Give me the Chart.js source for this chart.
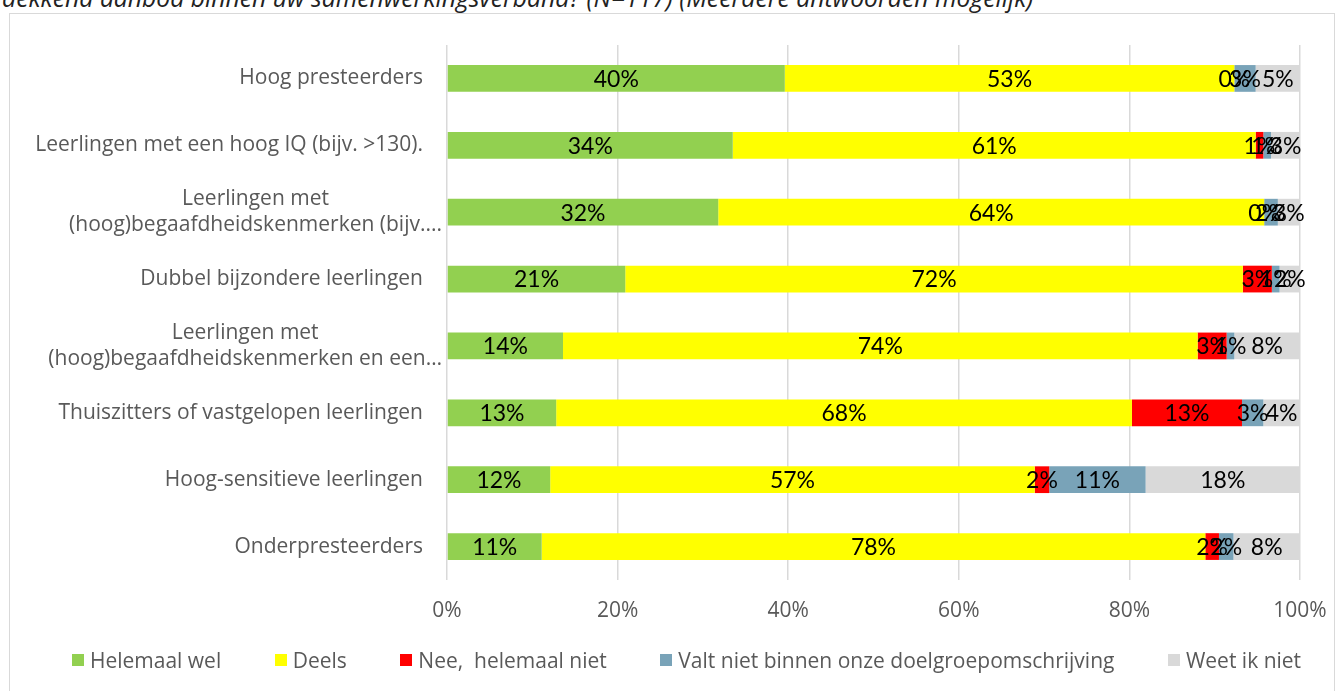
<!DOCTYPE html>
<html>
<head>
<meta charset="utf-8">
<script src="https://cdn.jsdelivr.net/npm/chart.js@4/dist/chart.umd.min.js"></script>
<style>
  html, body { margin: 0; padding: 0; background: #ffffff; overflow: hidden; }
  #wrap { position: relative; width: 1337px; height: 691px; }
  #title { position: absolute; left: 2px; top: -19px; font-family: "Open Sans", sans-serif; font-style: italic; font-size: 24.7px; color: #222; white-space: nowrap; }
  #frame { position: absolute; left: 9px; top: 13px; width: 1326px; height: 720px; border: 1px solid #d9d9d9; box-sizing: border-box; }
  #c { position: absolute; left: 0; top: 0; }
  #legend { position: absolute; left: 36px; right: 0; top: 648px; height: 24px; display: flex; justify-content: center; align-items: center; font-family: "Open Sans", sans-serif; font-size: 21px; color: #595959; line-height: 24px; }
  #legend .item { display: flex; align-items: center; margin: 0 26.75px; white-space: pre; }
  #legend .box { width: 12px; height: 12px; margin-right: 6px; }
</style>
</head>
<body>
<div id="wrap">
  <div id="title">dekkend aanbod binnen uw samenwerkingsverband? (N=117) (Meerdere antwoorden mogelijk)</div>
  <div id="frame"></div>
  <canvas id="c" width="1337" height="691"></canvas>
  <div id="legend"></div>
</div>
<script>
const categories = [
  'Hoog presteerders',
  'Leerlingen met een hoog IQ (bijv. >130).',
  ['Leerlingen met', '(hoog)begaafdheidskenmerken (bijv....'],
  'Dubbel bijzondere leerlingen',
  ['Leerlingen met', '(hoog)begaafdheidskenmerken en een\u2026'],
  'Thuiszitters of vastgelopen leerlingen',
  'Hoog-sensitieve leerlingen',
  'Onderpresteerders'
];
const seriesNames = ['Helemaal wel', 'Deels', 'Nee,  helemaal niet', 'Valt niet binnen onze doelgroepomschrijving', 'Weet ik niet'];
const helemaalWel = [39.6, 33.5, 31.8, 20.9, 13.6, 12.8, 12.1, 11.1];
const deels       = [52.7, 61.3, 64.0, 72.4, 74.4, 67.5, 56.8, 77.8];
const neeHelemaal = [0.0, 0.9, 0.0, 3.4, 3.4, 12.9, 1.7, 1.6];
const valtNiet    = [2.5, 0.9, 1.6, 0.9, 0.9, 2.5, 11.3, 1.7];
const weetNiet    = [5.2, 3.4, 2.6, 2.4, 7.7, 4.3, 18.1, 7.8];
const xTickLabels = ['0%', '20%', '40%', '60%', '80%', '100%'];

const colors = ['#92d050', '#ffff00', '#ff0000', '#79a3b8', '#d9d9d9'];
const seriesValues = [helemaalWel, deels, neeHelemaal, valtNiet, weetNiet];

const AXIS_FONT = '"Open Sans", sans-serif';
const AXIS_COLOR = '#595959';

const dataLabelPlugin = {
  id: 'dataLabels',
  afterDatasetsDraw(chart) {
    const ctx = chart.ctx;
    ctx.save();
    ctx.font = '23px Lato, sans-serif';
    ctx.fillStyle = '#000000';
    ctx.textAlign = 'center';
    ctx.textBaseline = 'middle';
    chart.data.datasets.forEach((ds, di) => {
      const meta = chart.getDatasetMeta(di);
      meta.data.forEach((el, i) => {
        const p = el.getProps(['x', 'y', 'base'], true);
        const cx = (p.x + p.base) / 2;
        ctx.fillText(Math.round(ds.data[i]) + '%', cx, p.y + 1);
      });
    });
    ctx.restore();
  }
};

const yLabelPlugin = {
  id: 'yLabels',
  afterDraw(chart) {
    const ctx = chart.ctx;
    const ys = chart.scales.y;
    const left = chart.chartArea.left;
    ctx.save();
    ctx.font = '21px ' + AXIS_FONT;
    ctx.fillStyle = AXIS_COLOR;
    ctx.textBaseline = 'middle';
    categories.forEach((lab, i) => {
      const y = ys.getPixelForTick(i);
      if (Array.isArray(lab)) {
        const widest = Math.max(...lab.map(l => ctx.measureText(l).width));
        const cx = left - 5 - widest / 2;
        ctx.textAlign = 'center';
        const lh = 26;
        lab.forEach((l, k) => {
          ctx.fillText(l, cx, y + (k - (lab.length - 1) / 2) * lh);
        });
      } else {
        ctx.textAlign = 'right';
        ctx.fillText(lab, left - 24, y);
      }
    });
    ctx.restore();
  }
};

new Chart(document.getElementById('c'), {
  type: 'bar',
  data: {
    labels: categories,
    datasets: seriesValues.map((vals, i) => ({
      label: seriesNames[i],
      data: vals,
      backgroundColor: colors[i],
      borderWidth: 0,
      categoryPercentage: 0.8,
      barPercentage: 0.5,
      yAxisID: 'y',
      xAxisID: 'x'
    }))
  },
  options: {
    indexAxis: 'y',
    responsive: false,
    animation: false,
    devicePixelRatio: 1,
    layout: { padding: { top: 45, left: 36, right: 37, bottom: 66 } },
    scales: {
      x: {
        type: 'linear',
        position: 'bottom',
        stacked: true,
        min: 0,
        max: 100,
        ticks: {
          stepSize: 20,
          padding: 18,
          color: AXIS_COLOR,
          font: { family: AXIS_FONT, size: 21 },
          callback: (v, idx) => xTickLabels[idx]
        },
        grid: { color: '#d9d9d9', lineWidth: 1.5, drawTicks: false },
        border: { display: false },
        afterFit(s) { s.height = 45; s.paddingLeft = 0; s.paddingRight = 0; }
      },
      y: {
        type: 'category',
        position: 'left',
        stacked: true,
        ticks: { display: false },
        grid: { display: false, drawTicks: false },
        border: { display: false },
        afterFit(s) { s.width = 411; s.paddingTop = 0; s.paddingBottom = 0; }
      }
    },
    plugins: {
      legend: { display: false },
      tooltip: { enabled: false }
    }
  },
  plugins: [dataLabelPlugin, yLabelPlugin]
});

const legendEl = document.getElementById('legend');
seriesNames.forEach((name, i) => {
  const item = document.createElement('div');
  item.className = 'item';
  const box = document.createElement('span');
  box.className = 'box';
  box.style.background = colors[i];
  const txt = document.createElement('span');
  txt.textContent = name;
  item.appendChild(box);
  item.appendChild(txt);
  legendEl.appendChild(item);
});
</script>
</body>
</html>
